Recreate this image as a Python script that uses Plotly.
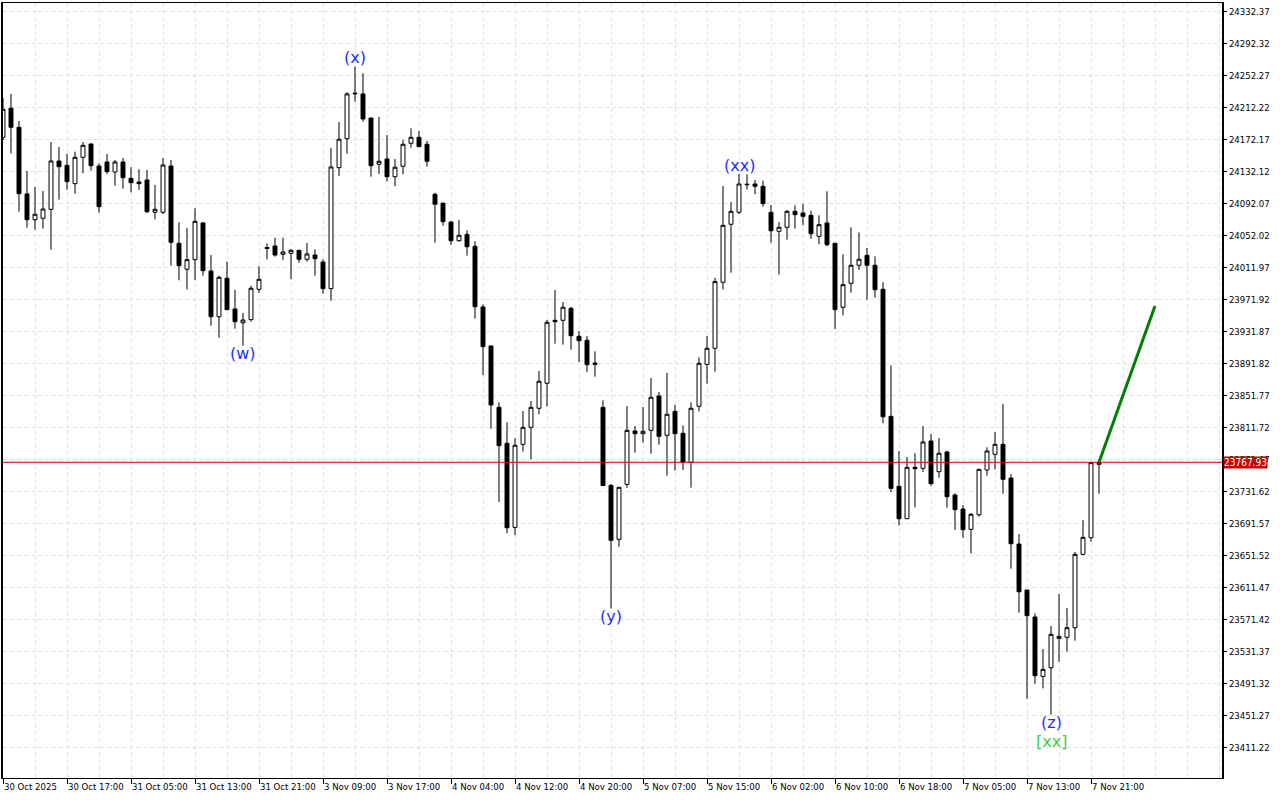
import plotly.graph_objects as go

# ---------- data: H1 candles ----------
opens = [
    24174.6, 24211.0, 24187.2, 24103.7, 24071.5, 24073.3, 24084.5, 24145.0, 24139.6, 24116.6,
    24149.6, 24166.3, 24138.7, 24143.7, 24131.2, 24143.7, 24123.3, 24118.7, 24121.2, 24080.8,
    24080.8, 24138.7, 24042.0, 24009.5, 24021.5, 24067.4, 24007.3, 23950.1, 23998.2, 23959.8,
    23942.6, 23946.4, 23984.4, 24035.5, 24038.6, 24028.2, 24029.5, 24033.2, 24022.0, 24027.3,
    24018.6, 23985.2, 24136.6, 24172.9, 24228.9, 24228.9, 24198.8, 24140.9, 24147.5, 24125.3,
    24138.4, 24167.2, 24174.6, 24165.9, 24103.3, 24092.1, 24068.6, 24045.2, 24053.2, 24038.2,
    23962.3, 23913.5, 23836.7, 23791.7, 23686.5, 23790.4, 23811.7, 23835.5, 23866.8, 23945.6,
    23945.6, 23960.6, 23925.6, 23920.6, 23892.2, 23836.7, 23739.0, 23671.5, 23740.3, 23807.1,
    23803.7, 23807.9, 23850.9, 23801.7, 23831.7, 23804.2, 23767.9, 23838.0, 23890.5, 23910.6,
    23993.2, 24065.8, 24080.8, 24115.2, 24116.2, 24113.3, 24080.8, 24057.0, 24062.0, 24082.0,
    24079.9, 24077.0, 24050.7, 24067.4, 24042.0, 23961.9, 23991.9, 24014.5, 24027.0, 24014.5,
    23984.4, 23825.4, 23737.8, 23697.3, 23761.6, 23760.4, 23794.5, 23756.1, 23780.8, 23727.0,
    23709.4, 23684.0, 23702.3, 23758.3, 23777.9, 23790.4, 23748.2, 23665.6, 23608.1, 23574.3,
    23500.0, 23510.8, 23547.6, 23548.9, 23560.9, 23652.7, 23673.5, 23765.4,
]
highs = [
    24223.8, 24228.9, 24195.1, 24132.5, 24112.4, 24107.4, 24168.8, 24162.5, 24153.8, 24156.6,
    24168.8, 24166.3, 24142.1, 24153.8, 24146.2, 24148.8, 24137.1, 24134.6, 24133.7, 24115.0,
    24148.8, 24146.2, 24068.3, 24061.1, 24085.8, 24068.3, 24027.3, 24001.4, 24019.0, 23983.9,
    23954.8, 23988.9, 24013.2, 24042.0, 24049.0, 24049.0, 24034.5, 24033.6, 24042.4, 24034.5,
    24022.0, 24161.3, 24193.8, 24231.0, 24263.0, 24254.8, 24198.8, 24200.1, 24177.5, 24147.5,
    24171.3, 24185.9, 24182.5, 24170.0, 24105.3, 24093.3, 24069.5, 24071.2, 24058.2, 24044.5,
    23965.6, 23913.5, 23843.0, 23817.9, 23797.9, 23832.1, 23844.6, 23882.2, 23946.0, 23983.5,
    23968.5, 23962.6, 23931.9, 23926.0, 23906.8, 23845.5, 23740.7, 23737.0, 23838.3, 23813.3,
    23837.1, 23873.4, 23855.9, 23879.7, 23839.6, 23814.2, 23843.0, 23899.3, 23926.0, 23998.9,
    24113.7, 24093.7, 24128.7, 24128.3, 24121.2, 24120.3, 24089.9, 24068.6, 24083.7, 24089.6,
    24091.2, 24082.8, 24077.0, 24107.1, 24042.0, 24028.2, 24062.0, 24055.7, 24036.1, 24025.7,
    23993.2, 23889.3, 23782.0, 23774.5, 23779.2, 23813.3, 23803.3, 23798.3, 23782.4, 23729.1,
    23714.4, 23704.4, 23759.9, 23786.7, 23805.8, 23840.9, 23753.2, 23678.2, 23608.1, 23578.9,
    23534.2, 23563.0, 23603.0, 23585.5, 23655.6, 23695.7, 23767.9, 23767.93,
]
lows = [
    24171.3, 24154.6, 24081.5, 24061.5, 24059.0, 24060.3, 24034.0, 24096.6, 24109.1, 24104.1,
    24129.6, 24132.9, 24080.3, 24128.7, 24114.1, 24110.3, 24105.8, 24108.7, 24079.9, 24072.0,
    24078.7, 24014.0, 23995.7, 23984.4, 23995.7, 24001.4, 23938.9, 23923.8, 23958.5, 23935.1,
    23913.8, 23943.9, 23980.1, 24022.0, 24025.2, 24021.1, 23997.3, 24017.7, 24019.0, 24001.4,
    23978.9, 23970.1, 24126.2, 24154.1, 24219.2, 24194.2, 24125.3, 24128.7, 24119.6, 24113.3,
    24128.3, 24161.6, 24162.5, 24137.9, 24042.7, 24064.0, 24039.9, 24044.0, 24026.5, 23947.6,
    23877.2, 23809.9, 23718.2, 23679.0, 23676.9, 23781.2, 23771.7, 23828.0, 23837.5, 23916.3,
    23915.1, 23908.8, 23893.4, 23880.9, 23875.0, 23738.2, 23585.1, 23662.2, 23736.1, 23779.9,
    23792.4, 23778.7, 23789.9, 23751.1, 23757.4, 23758.3, 23736.1, 23831.7, 23866.3, 23881.3,
    23984.4, 24005.2, 24078.7, 24109.1, 24103.3, 24087.8, 24042.7, 24002.7, 24046.5, 24060.3,
    24064.5, 24047.4, 24040.7, 24038.2, 23934.7, 23951.9, 23980.1, 24008.6, 23971.4, 23973.9,
    23816.7, 23730.3, 23689.0, 23696.9, 23711.6, 23755.7, 23738.6, 23748.6, 23711.1, 23683.2,
    23673.5, 23654.0, 23699.8, 23751.1, 23759.1, 23728.6, 23634.7, 23579.6, 23472.0, 23490.8,
    23485.0, 23452.0, 23518.3, 23530.8, 23544.6, 23652.7, 23668.5, 23728.6,
]
closes = [
    24209.7, 24187.2, 24104.1, 24071.5, 24078.3, 24084.9, 24145.0, 24137.9, 24119.1, 24149.6,
    24164.6, 24139.1, 24087.8, 24131.6, 24143.7, 24124.1, 24117.8, 24116.6, 24081.5, 24084.5,
    24140.0, 24043.2, 24014.0, 24021.5, 24069.5, 24007.7, 23950.1, 23999.4, 23958.9, 23943.9,
    23946.0, 23985.7, 23996.9, 24036.7, 24027.3, 24031.1, 24033.2, 24022.0, 24028.6, 24022.7,
    23985.2, 24137.5, 24172.2, 24228.9, 24229.7, 24197.6, 24139.1, 24144.6, 24125.3, 24137.1,
    24165.9, 24174.6, 24162.9, 24144.6, 24090.8, 24069.0, 24045.2, 24052.0, 24037.7, 23962.6,
    23912.6, 23839.6, 23788.7, 23686.0, 23789.2, 23811.7, 23836.7, 23869.3, 23943.1, 23943.9,
    23961.9, 23926.3, 23920.1, 23890.0, 23890.5, 23738.8, 23670.2, 23736.6, 23807.9, 23803.7,
    23806.7, 23849.3, 23800.4, 23828.0, 23803.7, 23767.9, 23835.5, 23891.8, 23910.6, 23994.2,
    24064.5, 24082.0, 24116.2, 24115.8, 24113.3, 24091.6, 24057.7, 24062.0, 24082.0, 24077.8,
    24075.8, 24054.0, 24065.3, 24040.2, 23958.9, 23990.2, 24014.5, 24022.0, 24014.5, 23983.9,
    23824.9, 23735.3, 23697.3, 23761.6, 23759.9, 23793.3, 23741.1, 23779.2, 23724.8, 23708.6,
    23683.5, 23702.8, 23759.1, 23782.0, 23790.4, 23746.6, 23666.0, 23605.9, 23575.9, 23500.8,
    23508.8, 23552.6, 23550.1, 23560.9, 23652.7, 23674.0, 23767.5, 23767.93,
]

# time axis labels (every 8th bar)
label_bars = [0, 8, 16, 24, 32, 40, 48, 56, 64, 72, 80, 88, 96, 104, 112, 120, 128, 136]
label_text = ["30 Oct 2025", "30 Oct 17:00", "31 Oct 05:00", "31 Oct 13:00", "31 Oct 21:00",
              "3 Nov 09:00", "3 Nov 17:00", "4 Nov 04:00", "4 Nov 12:00", "4 Nov 20:00",
              "5 Nov 07:00", "5 Nov 15:00", "6 Nov 02:00", "6 Nov 10:00", "6 Nov 18:00",
              "7 Nov 05:00", "7 Nov 13:00", "7 Nov 21:00"]

price_ticks = [24332.37, 24292.32, 24252.27, 24212.22, 24172.17, 24132.12, 24092.07, 24052.02,
               24011.97, 23971.92, 23931.87, 23891.82, 23851.77, 23811.72, 23771.67, 23731.62,
               23691.57, 23651.52, 23611.47, 23571.42, 23531.37, 23491.32, 23451.27, 23411.22]

last_price = 23767.93
forecast_bars = [137, 144]
forecast_prices = [23767.93, 23963.5]

# wave labels: text, bar, at high/low, colour, extra offset
wave_labels = [
    ("(w)", 30, "low", "#1f2fff", 0),
    ("(x)", 44, "high", "#1f2fff", 0),
    ("(y)", 76, "low", "#1f2fff", 0),
    ("(xx)", 92, "high", "#1f2fff", 0),
    ("(z)", 131, "low", "#1f2fff", 0),
    ("[xx]", 131, "low", "#3fcf3f", 19),
]

bars = list(range(len(opens)))
tick_font = dict(family="Tahoma, 'DejaVu Sans Condensed', 'Liberation Sans', sans-serif",
                 size=9.5, color="black")
grid = dict(showgrid=True, gridcolor="#e2e2e2", gridwidth=1, griddash="4px,3px")

fig = go.Figure()
fig.add_trace(go.Candlestick(
    x=bars, open=opens, high=highs, low=lows, close=closes,
    increasing=dict(line=dict(color="black", width=1), fillcolor="white"),
    decreasing=dict(line=dict(color="black", width=1), fillcolor="black"),
    showlegend=False, hoverinfo="skip",
))
fig.add_trace(go.Scatter(
    x=forecast_bars, y=forecast_prices, mode="lines",
    line=dict(color="#008000", width=3), showlegend=False, hoverinfo="skip",
))

# current price line + tag
fig.add_shape(type="line", xref="paper", x0=0, x1=1, yref="y", y0=last_price, y1=last_price,
              line=dict(color="#cc0000", width=1), layer="above")
fig.add_annotation(xref="paper", x=1.0, xanchor="left", xshift=1, y=last_price, yref="y",
                   text=f"{last_price:.2f}", showarrow=False, bgcolor="#cc0000",
                   font=dict(color="white", size=10, family=tick_font["family"]),
                   borderpad=0)

for text, b, side, col, extra in wave_labels:
    if side == "high":
        yv, ys = highs[b], 9 + extra
    else:
        yv, ys = lows[b], -8 - extra
    fig.add_annotation(x=b, y=yv, text=text, showarrow=False, yanchor="middle", yshift=ys,
                       font=dict(color=col, size=16, family="DejaVu Sans, Verdana, sans-serif"))

fig.update_xaxes(
    range=[0, 152.375], rangeslider=dict(visible=False), automargin=False,
    tickmode="array", tickvals=label_bars, ticktext=label_text, tickangle=0,
    ticklabelposition="outside right", ticks="outside", ticklen=5, tickcolor="black",
    tickfont=tick_font, showline=True, linecolor="black", linewidth=1, mirror=True,
    zeroline=False, minor=dict(tick0=0, dtick=4, ticklen=0, **grid), **grid,
)
fig.update_yaxes(
    range=[23372.8, 24342.7], side="right", automargin=False,
    tickmode="array", tickvals=price_ticks, ticktext=[f"{p:.2f}" for p in price_ticks],
    ticks="outside", ticklen=3, tickcolor="black", tickfont=tick_font,
    showline=True, linecolor="black", linewidth=2, mirror=True, zeroline=False, **grid,
)
fig.update_layout(
    width=1280, height=800,
    margin=dict(l=3, r=58, t=3, b=22),
    paper_bgcolor="white", plot_bgcolor="white",
)

# page body margin would push the 1280x800 figure off the window
fig.write_html("out.html", config={"displayModeBar": False},
               post_script="document.body.style.margin='0px';")
